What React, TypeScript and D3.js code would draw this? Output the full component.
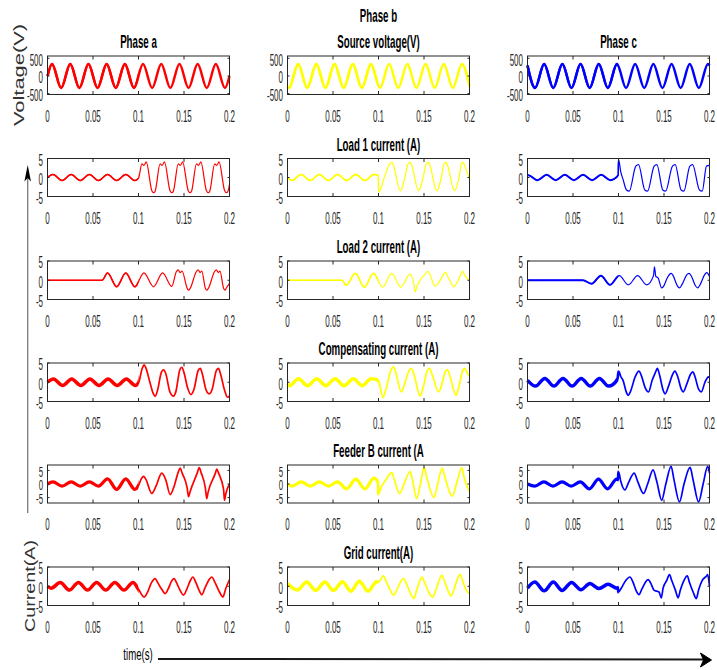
import React from "react";
import * as d3 from "d3";

type Pt = [number, number];

// axis ticks / labels
const timeTicks = [0, 0.05, 0.1, 0.15, 0.2];
const timeTickLabels = ["0", "0.05", "0.1", "0.15", "0.2"];
const voltTicks = [500, 0, -500];
const currTicks = [5, 0, -5];

const rowTitles = [
  "Source voltage(V)",
  "Load 1 current (A)",
  "Load 2 current (A)",
  "Compensating current (A)",
  "Feeder B current (A",
  "Grid current(A)",
];
const phaseTitles = ["Phase a", "Phase b", "Phase c"];
const phaseColors = ["#ff0000", "#ffff00", "#0000ff"];

// source voltage, extremes (V)
const voltA: Pt[] = [[0,0],[0.005,340],[0.015,-340],[0.025,340],[0.035,-340],[0.045,340],[0.055,-340],[0.065,340],[0.075,-340],[0.085,340],[0.095,-340],[0.105,340],[0.115,-340],[0.125,340],[0.135,-340],[0.145,340],[0.155,-340],[0.165,340],[0.175,-340],[0.185,340],[0.195,-340],[0.2,0]];
const voltB: Pt[] = [[0,-295],[0.0017,-340],[0.0117,340],[0.0217,-340],[0.0317,340],[0.0417,-340],[0.0517,340],[0.0617,-340],[0.0717,340],[0.0817,-340],[0.0917,340],[0.1017,-340],[0.1117,340],[0.1217,-340],[0.1317,340],[0.1417,-340],[0.1517,340],[0.1617,-340],[0.1717,340],[0.1817,-340],[0.1917,340],[0.2,-295]];
const voltC: Pt[] = [[0,295],[0.0083,-340],[0.0183,340],[0.0283,-340],[0.0383,340],[0.0483,-340],[0.0583,340],[0.0683,-340],[0.0783,340],[0.0883,-340],[0.0983,340],[0.1083,-340],[0.1183,340],[0.1283,-340],[0.1383,340],[0.1483,-340],[0.1583,340],[0.1683,-340],[0.1783,340],[0.1883,-340],[0.1983,340],[0.2,295]];

// load 1 current (A)
const load1A: Pt[] = [[0,0],[0.006,0.8],[0.016,-0.8],[0.026,0.8],[0.036,-0.8],[0.046,0.8],[0.056,-0.8],[0.066,0.8],[0.076,-0.8],[0.086,0.8],[0.096,-0.8],[0.1,-0.2],[0.1037,3.6],[0.106,3.2],[0.1085,4.1],[0.1147,-3.5],[0.1165,-4.0],[0.1183,-3.6],[0.1237,3.6],[0.126,3.2],[0.1285,4.1],[0.1347,-3.5],[0.1365,-4.0],[0.1383,-3.6],[0.1437,3.6],[0.146,3.2],[0.1485,4.1],[0.1547,-3.5],[0.1565,-4.0],[0.1583,-3.6],[0.1637,3.6],[0.166,3.2],[0.1685,4.1],[0.1747,-3.5],[0.1765,-4.0],[0.1783,-3.6],[0.1837,3.6],[0.186,3.2],[0.1885,4.1],[0.1947,-3.5],[0.1965,-4.0],[0.1983,-3.6],[0.2,-1.8]];
const load1B: Pt[] = [[0,0],[0.005,-0.8],[0.015,0.8],[0.025,-0.8],[0.035,0.8],[0.045,-0.8],[0.055,0.8],[0.065,-0.8],[0.075,0.8],[0.085,-0.8],[0.095,0.8],[0.0999,0.5],[0.1001,-3.9],[0.1025,-3.0],[0.107,0.5],[0.1125,3.6],[0.1147,4.0],[0.1165,3.2],[0.1238,-3.5],[0.1255,-3.0],[0.129,0],[0.1325,3.6],[0.1348,4.0],[0.1365,3.2],[0.144,-3.5],[0.1455,-3.0],[0.149,0],[0.1525,3.6],[0.1549,4.0],[0.1565,3.2],[0.164,-3.5],[0.1655,-3.0],[0.169,0],[0.172,3.6],[0.174,4.0],[0.1758,3.2],[0.1835,-3.5],[0.185,-3.0],[0.1885,0],[0.191,3.6],[0.1927,4.0],[0.1945,3.2],[0.2,-0.5]];
const load1C: Pt[] = [[0,0.5],[0.001,0.6],[0.011,-0.7],[0.021,0.7],[0.031,-0.7],[0.041,0.7],[0.051,-0.7],[0.061,0.7],[0.071,-0.7],[0.081,0.7],[0.091,-0.7],[0.0999,0.6],[0.1001,4.7],[0.1025,1.5],[0.105,-0.5],[0.1088,-3.3],[0.1118,-3.6],[0.119,3.0],[0.122,3.4],[0.1289,-3.3],[0.1319,-3.6],[0.1392,3.0],[0.1422,3.4],[0.1487,-3.3],[0.1517,-3.6],[0.1593,3.0],[0.1623,3.4],[0.1688,-3.3],[0.1718,-3.6],[0.1784,3.0],[0.1814,3.4],[0.189,-3.3],[0.192,-3.6],[0.1967,3.0],[0.2,3.2]];

// load 2 current (A)
const load2A: Pt[] = [[0,0],[0.06,0],[0.066,1.9],[0.076,-1.7],[0.086,1.9],[0.096,-1.7],[0.106,1.9],[0.1165,-1.7],[0.1265,1.9],[0.1366,-1.6],[0.1415,2.2],[0.1436,2.7],[0.1458,2.0],[0.1478,2.4],[0.1535,-2.1],[0.155,-2.6],[0.157,-2.0],[0.1635,2.2],[0.1656,2.7],[0.1678,2.0],[0.1695,2.4],[0.1735,-2.1],[0.175,-2.6],[0.177,-2.0],[0.1835,2.2],[0.1856,2.7],[0.1878,2.0],[0.1895,2.4],[0.1935,-2.1],[0.195,-2.6],[0.1965,-2.0],[0.2,-0.8]];
const load2B: Pt[] = [[0,0],[0.06,0],[0.0645,-1.3],[0.0745,1.8],[0.0845,-1.8],[0.0945,1.8],[0.1045,-1.8],[0.1145,1.8],[0.1245,-1.8],[0.1345,1.6],[0.1385,-0.5],[0.1403,-3.0],[0.1425,-1.5],[0.147,0.5],[0.1515,1.6],[0.154,2.3],[0.1565,1.5],[0.161,-1.2],[0.1625,-1.6],[0.1665,-0.5],[0.1715,1.5],[0.1735,2.1],[0.1755,1.3],[0.181,-1.3],[0.1825,-1.7],[0.1865,-0.5],[0.1905,1.5],[0.1925,2.3],[0.1945,1.4],[0.2,-0.2]];
const load2C: Pt[] = [[0,0],[0.061,0],[0.0705,-0.9],[0.0807,1.2],[0.0906,-1.2],[0.1009,1.2],[0.1108,-1.2],[0.121,1.2],[0.131,-1.2],[0.1385,1.2],[0.1395,3.5],[0.141,1.0],[0.1435,0.6],[0.1475,-2.0],[0.15,-1.4],[0.153,0.3],[0.156,1.5],[0.158,1.8],[0.16,1.2],[0.1645,-1.4],[0.167,-2.0],[0.17,-1.0],[0.175,1.4],[0.1775,1.8],[0.18,1.1],[0.1845,-1.4],[0.187,-2.0],[0.19,-1.0],[0.1945,1.4],[0.197,2.0],[0.2,1.0]];

// compensating current (A)
const compA: Pt[] = [[0,0],[0.0066,0.85],[0.0166,-0.85],[0.0266,0.85],[0.0366,-0.85],[0.0466,0.85],[0.0566,-0.85],[0.0666,0.85],[0.0766,-0.85],[0.0866,0.85],[0.0966,-0.85],[0.1,-0.2],[0.104,3.5],[0.1062,4.5],[0.108,3.8],[0.1125,0],[0.116,-2.8],[0.1183,-3.6],[0.121,-2.0],[0.125,2.5],[0.1275,3.2],[0.13,2.2],[0.1345,-2.5],[0.1385,-3.6],[0.141,-2.5],[0.1455,3.3],[0.1476,3.9],[0.15,2.5],[0.154,-1.5],[0.1575,-3.2],[0.161,-1.8],[0.1655,3.0],[0.1678,3.6],[0.17,2.3],[0.174,-1.8],[0.1777,-3.0],[0.181,-1.8],[0.1855,3.0],[0.1879,3.6],[0.19,2.3],[0.1945,-2.0],[0.198,-3.9],[0.2,-3.5]];
const compB: Pt[] = [[0,-0.4],[0.0021,-0.9],[0.0121,0.9],[0.022,-0.9],[0.0322,0.9],[0.042,-0.9],[0.0524,0.9],[0.062,-0.9],[0.0725,0.9],[0.082,-0.9],[0.092,0.9],[0.1,0.5],[0.1048,-4.0],[0.108,-2.0],[0.1135,3.0],[0.1165,4.0],[0.119,2.5],[0.125,-2.5],[0.128,-1.0],[0.1335,3.0],[0.136,3.6],[0.139,2.0],[0.1458,-3.6],[0.149,-1.5],[0.1535,3.0],[0.156,3.6],[0.159,2.0],[0.166,-2.5],[0.169,-1.0],[0.1735,2.8],[0.1758,3.3],[0.178,2.0],[0.1853,-3.4],[0.188,-1.5],[0.1925,3.0],[0.195,3.6],[0.198,2.2],[0.2,1.5]];
const compC: Pt[] = [[0,0.5],[0.0088,-1],[0.019,1],[0.029,-1],[0.039,1],[0.049,-1],[0.059,1],[0.069,-1],[0.079,1],[0.089,-1],[0.0995,1],[0.1005,2.8],[0.1025,1.5],[0.105,0.5],[0.1085,-2.5],[0.1108,-3.4],[0.113,-2.5],[0.1185,1.5],[0.1225,2.9],[0.125,1.8],[0.1295,-1.5],[0.133,-2.5],[0.137,0.5],[0.1405,2.5],[0.1427,3.6],[0.145,2.0],[0.149,-2.0],[0.1512,-3.0],[0.155,-1.0],[0.159,1.8],[0.162,2.9],[0.165,1.5],[0.169,-1.8],[0.171,-2.5],[0.175,-0.5],[0.179,2.0],[0.1817,2.7],[0.184,1.5],[0.188,-1.8],[0.191,-2.5],[0.195,0],[0.1989,1.4],[0.2,1.2]];

// feeder B current (A)
const feederA: Pt[] = [[0,0],[0.006,0.8],[0.016,-0.8],[0.026,0.8],[0.036,-0.8],[0.046,0.8],[0.056,-0.8],[0.066,1.9],[0.076,-2.0],[0.086,1.9],[0.096,-2.0],[0.1,-0.6],[0.1025,1.5],[0.1055,2.8],[0.108,1.8],[0.1147,-3.5],[0.119,-1.0],[0.1256,4.0],[0.13,1.5],[0.1348,-3.9],[0.139,-1.0],[0.1435,4.2],[0.1458,5.9],[0.148,4.0],[0.1535,-1.5],[0.155,-4.7],[0.1565,-3.0],[0.1645,4.0],[0.1667,6.0],[0.169,4.0],[0.1735,-1.5],[0.175,-5.4],[0.1765,-3.0],[0.1845,4.0],[0.186,5.5],[0.188,4.0],[0.1935,-2.0],[0.1945,-6.0],[0.196,-3.5],[0.2,0]];
const feederB: Pt[] = [[0,0],[0.005,-0.8],[0.015,0.8],[0.025,-0.8],[0.035,0.8],[0.045,-0.8],[0.055,0.8],[0.065,-1.8],[0.075,1.8],[0.085,-1.8],[0.095,2.2],[0.0999,0.5],[0.1001,-3.7],[0.1025,-1.5],[0.108,1.5],[0.1147,4.2],[0.117,2.0],[0.1231,-3.5],[0.128,0],[0.1348,4.6],[0.137,2.0],[0.142,-5.4],[0.146,0],[0.1502,6.1],[0.153,2.5],[0.161,-5.0],[0.165,0],[0.17,5.9],[0.173,2.5],[0.181,-4.5],[0.186,0.5],[0.1916,6.0],[0.194,2.5],[0.2,-2.9]];
const feederC: Pt[] = [[0,0],[0.008,-0.8],[0.018,0.8],[0.028,-0.8],[0.038,0.8],[0.048,-0.8],[0.058,0.8],[0.068,-1.8],[0.078,1.8],[0.088,-1.8],[0.098,1.8],[0.0999,1.5],[0.1001,4.5],[0.1025,1.0],[0.107,-2.2],[0.111,0.5],[0.1172,4.0],[0.121,1.0],[0.1275,-3.5],[0.132,0],[0.138,5.2],[0.142,1.0],[0.1475,-6.0],[0.152,0],[0.1578,6.5],[0.161,1.5],[0.167,-6.6],[0.172,0],[0.1787,6.1],[0.182,1.5],[0.188,-6.6],[0.193,0],[0.198,6.5],[0.2,4.0]];

// grid current (A)
const gridA: Pt[] = [[0,0],[0.004,-0.5],[0.014,0.95],[0.024,-1],[0.034,1],[0.044,-1],[0.054,1],[0.064,-1],[0.074,1],[0.084,-1],[0.094,1],[0.1,-0.8],[0.1062,-2.8],[0.11,-1.5],[0.114,0.8],[0.1183,2.0],[0.121,1.0],[0.1255,-0.8],[0.1293,-1.9],[0.133,-0.5],[0.136,1.2],[0.139,2.0],[0.142,0.8],[0.146,-1.2],[0.1494,-2.3],[0.153,-0.8],[0.157,1.5],[0.1597,2.4],[0.163,1.0],[0.1665,-1.0],[0.1696,-2.2],[0.173,-0.5],[0.177,1.5],[0.1806,2.4],[0.184,1.0],[0.189,-1.5],[0.1927,-2.8],[0.196,-0.5],[0.2,1.7]];
const gridB: Pt[] = [[0,0.7],[0.011,-1],[0.021,1.1],[0.031,-1.1],[0.041,1.1],[0.0505,-1.1],[0.0605,1.2],[0.0695,-1.3],[0.079,1.3],[0.0885,-1.3],[0.098,1.2],[0.1,1.1],[0.1055,2.7],[0.108,1.5],[0.1125,-0.8],[0.1165,-2.3],[0.12,-1.0],[0.1245,1.2],[0.1275,2.0],[0.131,0.5],[0.135,-1.8],[0.139,-3.2],[0.142,-1.0],[0.1455,1.5],[0.1477,2.4],[0.151,0.8],[0.155,-1.5],[0.1597,-2.8],[0.163,-1.0],[0.1665,1.5],[0.1696,2.8],[0.173,1.0],[0.1765,-1.2],[0.1795,-2.5],[0.183,-0.8],[0.1865,1.8],[0.1897,3.1],[0.193,1.0],[0.1965,-1.0],[0.2,-1.9]];
const gridC: Pt[] = [[0,-0.5],[0.008,1.1],[0.0183,-1.2],[0.0283,1.1],[0.038,-1.1],[0.0484,1.0],[0.0587,-0.9],[0.0686,0.7],[0.0785,-0.6],[0.0885,0.5],[0.0985,-0.5],[0.0999,-0.3],[0.1001,-1.5],[0.103,-0.5],[0.108,1.5],[0.1125,2.4],[0.116,1.0],[0.1195,-1.2],[0.1225,-2.2],[0.1255,-0.8],[0.129,0.8],[0.1325,1.7],[0.136,0.5],[0.139,-1.0],[0.1445,-1.5],[0.147,-3.0],[0.149,-0.5],[0.153,1.5],[0.156,3.0],[0.1585,1.5],[0.1625,-1.0],[0.1655,-3.0],[0.168,-1.0],[0.172,1.5],[0.1755,2.7],[0.178,1.0],[0.182,-1.5],[0.1855,-3.2],[0.188,-1.0],[0.192,1.5],[0.1965,2.6],[0.198,3.0],[0.2,0]];

const series: Pt[][][] = [
  [voltA, voltB, voltC],
  [load1A, load1B, load1C],
  [load2A, load2B, load2C],
  [compA, compB, compC],
  [feederA, feederB, feederC],
  [gridA, gridB, gridC],
];

// layout
const colX = [[47.5, 229.5], [287.5, 469.5], [527.5, 709.5]];
const rowY = [[56, 94.5], [158.5, 196.5], [261, 299.5], [363, 401.5], [465, 503], [567, 605.5]];
const yDomains = [[-525, 565], [-5, 5], [-5, 5], [-5, 5], [-7, 7], [-5, 5]];
// [before 0.1 s, after 0.1 s] line widths
const rowWidths = [[2.5, 2.5], [1.5, 1.2], [1.6, 1.2], [3.5, 1.7], [3.3, 1.7], [3.5, 1.7]];

const FONT = "'Liberation Sans', Arial, Helvetica, sans-serif";
const AX = "#262626";

const Txt = ({ x, y, size, sx = 0.5, anchor = "middle", weight = "normal", fill = AX, children }: any) => (
  <text
    transform={`translate(${x},${y}) scale(${sx},1)`}
    fontSize={size}
    textAnchor={anchor}
    fontWeight={weight}
    fill={fill}
    fontFamily={FONT}
  >
    {children}
  </text>
);

function Panel({ row, col }: { row: number; col: number }) {
  const [x0, x1] = colX[col];
  const [y0, y1] = rowY[row];
  const x = d3.scaleLinear().domain([0, 0.2]).range([x0, x1]);
  const y = d3.scaleLinear().domain(yDomains[row]).range([y1, y0]);
  const line = d3
    .line<Pt>()
    .x((d) => x(d[0]))
    .y((d) => y(d[1]))
    .curve(d3.curveMonotoneX);
  const path = line(series[row][col]) || "";
  const yTicks = row === 0 ? voltTicks : currTicks;
  const id = `pre-${row}-${col}`;
  let [wPre, wPost] = rowWidths[row];
  if (col === 2 && (row === 1 || row === 2)) wPre = 2;
  const color = phaseColors[col];
  // feeder row has a wider y range, so its labels sit closer together
  const ySize = row === 4 ? 14 : 16;
  const yOff = row === 4 ? 6.4 : 7.3;

  return (
    <g>
      <defs>
        <clipPath id={id}>
          <rect x={x0 - 5} y={y0 - 20} width={x(0.1) - x0 + 5} height={y1 - y0 + 40} />
        </clipPath>
      </defs>
      <path d={path} fill="none" stroke={color} strokeWidth={wPost} strokeLinejoin="round" />
      <path d={path} fill="none" stroke={color} strokeWidth={wPre} strokeLinejoin="round" clipPath={`url(#${id})`} />
      <rect x={x0} y={y0} width={x1 - x0} height={y1 - y0} fill="none" stroke={AX} strokeWidth={1} />
      {timeTicks.map((t, i) => (
        <g key={`xt${i}`}>
          <line x1={x(t)} x2={x(t)} y1={y1} y2={y1 - 3.5} stroke={AX} />
          <line x1={x(t)} x2={x(t)} y1={y0} y2={y0 + 3.5} stroke={AX} />
          <Txt x={x(t)} y={y1 + 27} size={16}>{timeTickLabels[i]}</Txt>
        </g>
      ))}
      {yTicks.map((v, i) => (
        <g key={`yt${i}`}>
          <line x1={x0} x2={x0 + 2} y1={y(v)} y2={y(v)} stroke={AX} />
          <line x1={x1} x2={x1 - 2} y1={y(v)} y2={y(v)} stroke={AX} />
          <Txt x={x0 - 4.5} y={y(v) + yOff} size={ySize} sx={row === 4 ? 0.56 : 0.5} anchor="end">{String(v)}</Txt>
        </g>
      ))}
    </g>
  );
}

export default function App() {
  const cells: [number, number][] = [];
  for (let r = 0; r < 6; r++) for (let c = 0; c < 3; c++) cells.push([r, c]);
  const mid = (c: number) => (colX[c][0] + colX[c][1]) / 2;

  return (
    <svg
      width={717}
      height={670}
      style={{ position: "absolute", left: 0, top: 0, background: "#fff" }}
    >
      <rect x={0} y={0} width={717} height={670} fill="#fff" />
      {cells.map(([r, c]) => (
        <Panel key={`${r}-${c}`} row={r} col={c} />
      ))}

      {/* titles */}
      <Txt x={mid(1)} y={21.7} size={18} sx={0.54} weight="bold" fill="#000">{phaseTitles[1]}</Txt>
      <Txt x={mid(0)} y={rowY[0][0] - 8.5} size={18} sx={0.54} weight="bold" fill="#000">{phaseTitles[0]}</Txt>
      <Txt x={mid(2)} y={rowY[0][0] - 8.5} size={18} sx={0.54} weight="bold" fill="#000">{phaseTitles[2]}</Txt>
      {rowTitles.map((t, r) => (
        <Txt key={t} x={mid(1)} y={rowY[r][0] - 8} size={18} sx={0.54} weight="bold" fill="#000">{t}</Txt>
      ))}

      {/* side labels */}
      <text
        transform="translate(23.5,75) rotate(-90)"
        fontSize={15}
        textAnchor="middle"
        fill="#333"
        fontFamily={FONT}
        textLength={102}
        lengthAdjust="spacingAndGlyphs"
      >
        Voltage(V)
      </text>
      <text
        transform="translate(34.5,586) rotate(-90)"
        fontSize={15}
        textAnchor="middle"
        fill="#333"
        fontFamily={FONT}
        textLength={92}
        lengthAdjust="spacingAndGlyphs"
      >
        Current(A)
      </text>

      {/* vertical arrow */}
      <line x1={27.7} x2={27.7} y1={513} y2={176} stroke="#7a7a7a" strokeWidth={1.3} />
      <polygon points="27.7,165 24.4,181.5 27.7,178 31,181.5" fill="#000" />

      {/* time axis arrow */}
      <Txt x={138} y={660} size={16} sx={0.6} fill="#000">time(s)</Txt>
      <line x1={158} x2={706} y1={659} y2={659.5} stroke="#1a1a1a" strokeWidth={2} />
      <polygon points="711.5,660 700.5,653 703.5,660 700.5,667" fill="#000" stroke="#000" strokeWidth={1} strokeLinejoin="round" />
    </svg>
  );
}
